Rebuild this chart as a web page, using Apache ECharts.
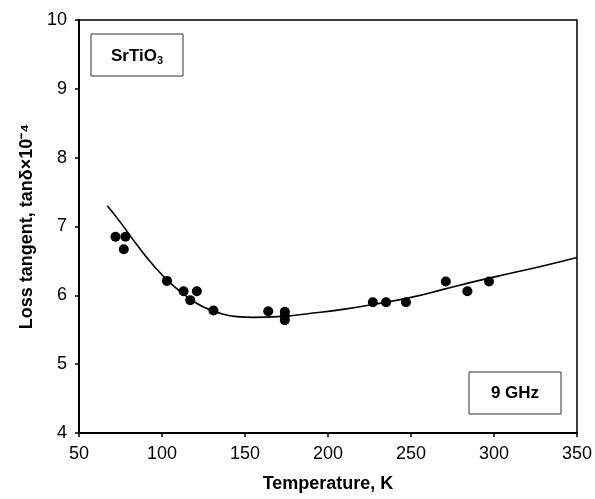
<!DOCTYPE html>
<html>
<head>
<meta charset="utf-8">
<script src="https://cdn.jsdelivr.net/npm/echarts@6/dist/echarts.min.js"></script>
<style>
  html, body { margin: 0; padding: 0; background: #fff; }
  #chart { width: 595px; height: 499px; }
</style>
</head>
<body>
<div id="chart"></div>
<script>
// measured points, [temperature K, tan delta x 1e4]
var measured = [
    [72, 6.85], [78, 6.85], [77, 6.67],
    [103, 6.21], [113, 6.06], [117, 5.93], [121, 6.06],
    [131, 5.78], [164, 5.77],
    [174, 5.76], [174, 5.70], [174, 5.64],
    [227, 5.90], [235, 5.90], [247, 5.90],
    [271, 6.20], [284, 6.06], [297, 6.20]
];

// fitted curve
var fitCurve = [
    [67, 7.30], [75, 7.06], [85, 6.73], [95, 6.43], [105, 6.18],
    [115, 5.98], [125, 5.83], [135, 5.74], [145, 5.69], [155, 5.68],
    [170, 5.69], [190, 5.74], [210, 5.80], [230, 5.88], [250, 5.97],
    [270, 6.09], [290, 6.21], [310, 6.32], [330, 6.43], [350, 6.55]
];

var xRange = [50, 350];
var yRange = [4, 10];

var chart = echarts.init(document.getElementById('chart'));

var font = 'Liberation Sans, Arial, sans-serif';

var option = {
    animation: false,
    backgroundColor: '#fff',
    grid: {
        left: 79,
        right: 17,
        top: 20,
        bottom: 66,
        show: true,
        borderColor: '#000',
        borderWidth: 1.5
    },
    xAxis: {
        type: 'value',
        min: xRange[0],
        max: xRange[1],
        interval: 50,
        name: 'Temperature, K',
        nameLocation: 'middle',
        nameGap: 42,
        nameTextStyle: { fontFamily: font, fontSize: 18, fontWeight: 'bold', color: '#000' },
        axisLine: { lineStyle: { color: '#000', width: 2 } },
        axisTick: { inside: false, length: 4, lineStyle: { color: '#000', width: 1.5 } },
        axisLabel: { fontFamily: font, fontSize: 18, color: '#000', margin: 12 },
        splitLine: { show: false }
    },
    yAxis: {
        type: 'value',
        min: yRange[0],
        max: yRange[1],
        interval: 1,
        name: 'Loss tangent, tanδ×10⁻⁴',
        nameLocation: 'middle',
        nameGap: 42,
        nameTextStyle: { fontFamily: font, fontSize: 18, fontWeight: 'bold', color: '#000' },
        axisLine: { lineStyle: { color: '#000', width: 2 } },
        axisTick: { inside: false, length: 4, lineStyle: { color: '#000', width: 1.5 } },
        axisLabel: { fontFamily: font, fontSize: 18, color: '#000', margin: 12 },
        splitLine: { show: false }
    },
    graphic: [
        {
            type: 'rect',
            shape: { x: 91, y: 34, width: 92, height: 42 },
            style: { fill: '#fff', stroke: '#333', lineWidth: 1 },
            z: 10
        },
        {
            type: 'text',
            x: 137,
            y: 56,
            style: {
                text: '{b|SrTiO}{s|3}',
                rich: {
                    b: { fontFamily: font, fontSize: 17, fontWeight: 'bold', fill: '#000' },
                    s: { fontFamily: font, fontSize: 11, fontWeight: 'bold', fill: '#000', padding: [10, 0, 0, 0] }
                },
                align: 'center',
                verticalAlign: 'middle'
            },
            z: 11
        },
        {
            type: 'rect',
            shape: { x: 469, y: 372, width: 92, height: 42 },
            style: { fill: '#fff', stroke: '#333', lineWidth: 1 },
            z: 10
        },
        {
            type: 'text',
            x: 515,
            y: 393,
            style: {
                text: '9 GHz',
                fontFamily: font,
                fontSize: 17,
                fontWeight: 'bold',
                fill: '#000',
                align: 'center',
                verticalAlign: 'middle'
            },
            z: 11
        }
    ],
    series: [
        {
            name: 'fit',
            type: 'line',
            data: fitCurve,
            smooth: true,
            showSymbol: false,
            lineStyle: { color: '#000', width: 1.6 },
            z: 2
        },
        {
            name: 'measured',
            type: 'scatter',
            data: measured,
            symbol: 'circle',
            symbolSize: 10,
            itemStyle: { color: '#000', opacity: 1 },
            z: 3
        }
    ]
};

chart.setOption(option);
</script>
</body>
</html>
